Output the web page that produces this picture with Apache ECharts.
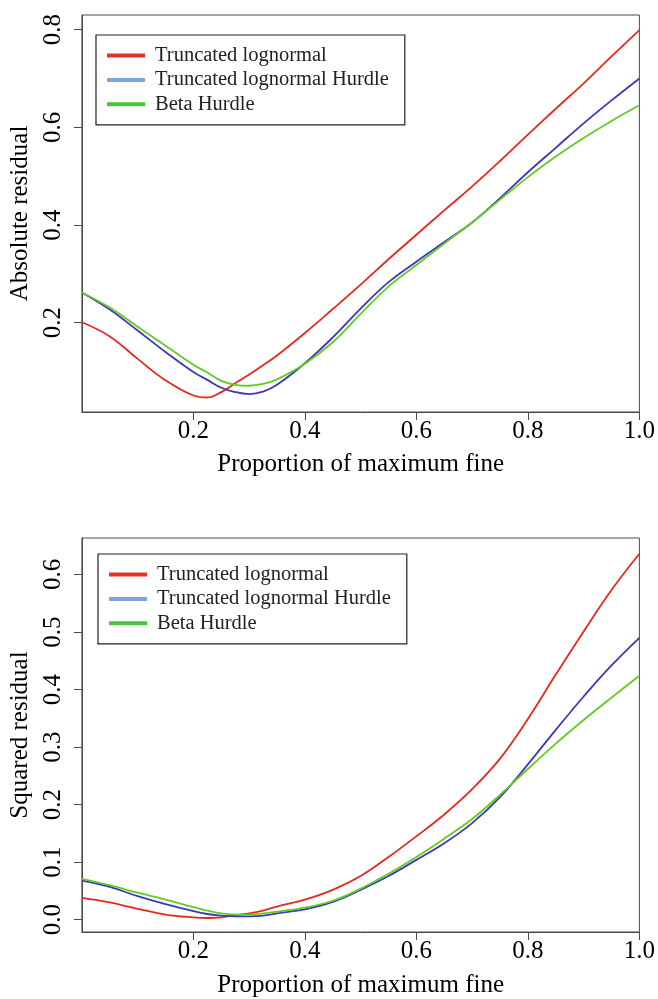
<!DOCTYPE html>
<html><head><meta charset="utf-8">
<script src="https://cdn.jsdelivr.net/npm/echarts@6/dist/echarts.min.js"></script>
<style>html,body{margin:0;padding:0;background:#fff}#c{width:658px;height:999px}</style>
</head><body><div id="c"></div>
<script>
// ---- data ----
const seriesNames = ['Truncated lognormal', 'Truncated lognormal Hurdle', 'Beta Hurdle'];
const xValues = [0, 0.05, 0.1, 0.15, 0.2, 0.225, 0.25, 0.275, 0.3, 0.325, 0.35, 0.4, 0.45, 0.5, 0.55, 0.6, 0.65, 0.7, 0.75, 0.8, 0.85, 0.9, 0.95, 1.0];

// Absolute residual (top panel)
const absTruncLognormal = [0.201, 0.172, 0.126, 0.082, 0.051, 0.047, 0.058, 0.076, 0.094, 0.113, 0.133, 0.179, 0.228, 0.278, 0.330, 0.380, 0.430, 0.479, 0.531, 0.585, 0.638, 0.690, 0.745, 0.799];
const absTruncLognormalHurdle = [0.262, 0.227, 0.184, 0.140, 0.099, 0.083, 0.067, 0.058, 0.054, 0.059, 0.073, 0.117, 0.170, 0.229, 0.283, 0.325, 0.365, 0.405, 0.455, 0.508, 0.558, 0.608, 0.655, 0.700];
const absBetaHurdle = [0.262, 0.231, 0.192, 0.153, 0.114, 0.098, 0.081, 0.073, 0.071, 0.075, 0.084, 0.116, 0.160, 0.218, 0.274, 0.318, 0.362, 0.405, 0.452, 0.498, 0.540, 0.578, 0.613, 0.645];

// Squared residual (bottom panel)
const sqTruncLognormal = [0.038, 0.030, 0.019, 0.009, 0.004, 0.003, 0.004, 0.008, 0.011, 0.016, 0.023, 0.035, 0.052, 0.076, 0.109, 0.145, 0.183, 0.227, 0.280, 0.349, 0.426, 0.501, 0.573, 0.636];
const sqTruncLognormalHurdle = [0.068, 0.057, 0.041, 0.027, 0.015, 0.010, 0.007, 0.006, 0.006, 0.007, 0.011, 0.018, 0.031, 0.052, 0.076, 0.104, 0.133, 0.168, 0.213, 0.270, 0.330, 0.388, 0.442, 0.490];
const sqBetaHurdle = [0.071, 0.060, 0.047, 0.035, 0.022, 0.016, 0.011, 0.009, 0.009, 0.011, 0.014, 0.021, 0.033, 0.054, 0.080, 0.109, 0.141, 0.175, 0.217, 0.262, 0.306, 0.347, 0.386, 0.424];

const xTicks = [0.2, 0.4, 0.6, 0.8, 1.0];
const absTicks = [0.2, 0.4, 0.6, 0.8];
const sqTicks = [0.0, 0.1, 0.2, 0.3, 0.4, 0.5, 0.6];

// ---- styling ----
const FONT = "'Liberation Serif', 'Times New Roman', serif";
const lineColors = ['#e8281e', '#3a3ab8', '#62cc1f'];
const legendColors = ['#e03528', '#7aa6da', '#44c83a'];
const axisColor = '#4a4a4a';

const zip = (ys) => xValues.map((x, i) => [x, ys[i]]);

function xAxis(gridIndex) {
  return {
    type: 'value', gridIndex, min: 0, max: 1,
    name: 'Proportion of maximum fine', nameLocation: 'middle',
    nameGap: gridIndex === 0 ? 40 : 41,
    nameTextStyle: { fontFamily: FONT, fontSize: 25, color: '#000' },
    axisLine: { show: true, onZero: false, lineStyle: { color: axisColor, width: 1 } },
    axisTick: { show: true, length: 8, customValues: xTicks, lineStyle: { color: axisColor } },
    axisLabel: { customValues: xTicks, margin: 7, fontFamily: FONT, fontSize: 25, color: '#000',
      formatter: v => Number(v).toFixed(1) },
    splitLine: { show: false }
  };
}
function yAxis(gridIndex, min, max, ticks, name) {
  return {
    type: 'value', gridIndex, min, max, name, nameLocation: 'middle', nameGap: 48, nameRotate: 90,
    nameTextStyle: { fontFamily: FONT, fontSize: 25, color: '#000' },
    axisLine: { show: true, onZero: false, lineStyle: { color: axisColor, width: 1 } },
    axisTick: { show: true, length: 8, customValues: ticks, lineStyle: { color: axisColor } },
    axisLabel: { customValues: ticks, rotate: 90, margin: 16, fontFamily: FONT, fontSize: 25, color: '#000',
      formatter: v => Number(v).toFixed(1) },
    splitLine: { show: false }
  };
}
function legend(left, top) {
  return {
    orient: 'vertical', left, top,
    data: seriesNames.map((n, i) => ({ name: n, icon: 'rect', itemStyle: { color: legendColors[i], borderWidth: 0 } })),
    itemWidth: 38, itemHeight: 4, itemGap: 3.4,
    padding: [10, 16, 10, 11],
    borderColor: '#222', borderWidth: 1.2, borderRadius: 0,
    textStyle: { fontFamily: FONT, fontSize: 20.5, color: '#222', lineHeight: 20, padding: [0, 0, 0, 5] },
    selectedMode: false
  };
}
function lines(xi, ys) {
  return ys.map((arr, i) => ({
    name: seriesNames[i], type: 'line', xAxisIndex: xi, yAxisIndex: xi,
    data: zip(arr), showSymbol: false, smooth: 0.4, silent: true, animation: false,
    lineStyle: { color: lineColors[i], width: 1.8 }, itemStyle: { color: lineColors[i] }
  }));
}

const chart = echarts.init(document.getElementById('c'), null, { renderer: 'canvas' });
chart.setOption({
  backgroundColor: '#fff',
  animation: false,
  grid: [
    { left: 81, top: 15, width: 560, height: 397, show: true, borderColor: axisColor, borderWidth: 1, containLabel: false },
    { left: 81, top: 538, width: 560, height: 395.5, show: true, borderColor: axisColor, borderWidth: 1, containLabel: false }
  ],
  legend: [legend(96, 35), legend(98, 554)],
  xAxis: [xAxis(0), xAxis(1)],
  yAxis: [
    yAxis(0, 0.0173, 0.8298, absTicks, 'Absolute residual'),
    yAxis(1, -0.0213, 0.6634, sqTicks, 'Squared residual')
  ],
  series: [
    ...lines(0, [absTruncLognormal, absTruncLognormalHurdle, absBetaHurdle]),
    ...lines(1, [sqTruncLognormal, sqTruncLognormalHurdle, sqBetaHurdle])
  ]
});
</script></body></html>
